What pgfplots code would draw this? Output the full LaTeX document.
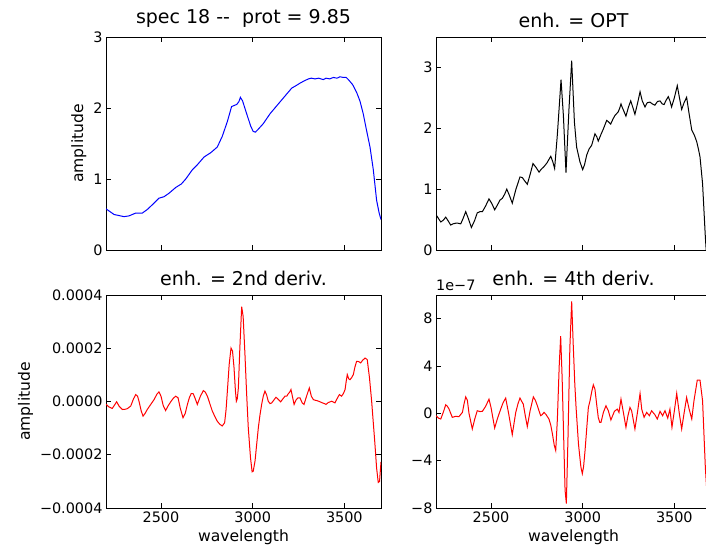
\documentclass[border=0pt]{standalone}
\usepackage{fontspec}
\setmainfont{DejaVu Sans}
\usepackage{pgfplots}
\pgfplotsset{compat=1.18}

\pgfplotsset{spec/.style={
  scale only axis, width=275pt, height=213pt,
  xmin=2200, xmax=3700, xtick={2500,3000,3500},
  tick align=inside, major tick length=5pt,
  clip mode=individual,
  axis line style={line width=0.9pt},
  every tick/.style={black, line width=0.8pt},
  tick label style={font=\fontsize{14.4}{16}\selectfont},
  label style={font=\fontsize{15.6}{18}\selectfont},
  title style={font=\fontsize{19}{22}\selectfont},
  every axis plot/.append style={line width=1pt, mark=none},
}}

\begin{document}
\begin{tikzpicture}

% top left: raw spectrum
\begin{axis}[spec, at={(106pt,302pt)}, anchor=south west,
  ymin=0, ymax=3, ytick={0,1,2,3}, yticklabels={0,1,2,3},
  xticklabels={,,}, ylabel={amplitude},
  title={spec 18 -{}-\ \ prot = 9.85}]
\addplot[blue] table {
2200 0.58
2244 0.50
2298 0.47
2325 0.48
2362 0.52
2398 0.52
2425 0.57
2462 0.66
2489 0.73
2516 0.75
2544 0.80
2580 0.88
2611 0.93
2635 1.00
2671 1.13
2698 1.20
2735 1.31
2771 1.37
2807 1.45
2834 1.60
2862 1.81
2885 2.02
2913 2.05
2925 2.09
2933 2.15
2945 2.10
2967 1.92
2990 1.74
3003 1.67
3015 1.66
3030 1.70
3058 1.78
3095 1.92
3131 2.03
3167 2.14
3213 2.28
3240 2.32
3258 2.35
3280 2.38
3304 2.41
3320 2.42
3340 2.41
3360 2.42
3385 2.40
3400 2.42
3420 2.41
3440 2.43
3460 2.42
3476 2.44
3495 2.43
3510 2.43
3522 2.40
3545 2.33
3567 2.22
3585 2.10
3603 1.92
3620 1.70
3640 1.45
3658 1.13
3676 0.70
3690 0.52
3700 0.43
};
\end{axis}

% top right: OPT enhancement
\begin{axis}[spec, at={(436pt,302pt)}, anchor=south west,
  ymin=0, ymax=3.5, ytick={0,1,2,3}, yticklabels={0,1,2,3},
  xticklabels={,,},
  title={enh. = OPT}]
\addplot[black] table {
2200 0.58
2213 0.52
2226 0.46
2240 0.49
2253 0.54
2266 0.48
2280 0.41
2293 0.43
2307 0.44
2320 0.44
2335 0.43
2348 0.52
2362 0.63
2376 0.52
2393 0.37
2410 0.48
2425 0.61
2440 0.63
2453 0.63
2470 0.72
2489 0.84
2505 0.76
2520 0.66
2535 0.74
2549 0.82
2562 0.85
2575 0.92
2586 1.00
2600 0.90
2616 0.77
2636 1.00
2658 1.20
2671 1.19
2685 1.13
2698 1.08
2715 1.26
2729 1.42
2745 1.36
2762 1.28
2775 1.33
2789 1.37
2805 1.43
2826 1.54
2837 1.45
2847 1.34
2862 1.90
2882 2.80
2895 2.20
2909 1.27
2925 2.30
2940 3.11
2955 2.10
2967 1.69
2985 1.45
3000 1.32
3010 1.40
3022 1.56
3035 1.66
3049 1.72
3067 1.91
3077 1.86
3085 1.79
3100 1.90
3113 1.99
3131 2.13
3143 2.10
3153 2.07
3165 2.15
3176 2.21
3194 2.27
3202 2.33
3209 2.40
3215 2.35
3222 2.30
3236 2.20
3250 2.35
3262 2.45
3275 2.33
3285 2.23
3300 2.42
3313 2.60
3325 2.45
3340 2.35
3352 2.42
3367 2.43
3380 2.40
3394 2.38
3408 2.44
3422 2.45
3434 2.40
3444 2.39
3455 2.46
3467 2.52
3476 2.45
3485 2.35
3500 2.50
3516 2.70
3528 2.50
3540 2.31
3553 2.42
3567 2.51
3580 2.25
3595 1.97
3610 1.88
3622 1.78
3632 1.65
3640 1.53
3654 1.09
3669 0.22
3680 -0.30
};
\end{axis}

% bottom left: 2nd derivative (values in units of 1e-4)
\begin{axis}[spec, at={(106pt,44pt)}, anchor=south west,
  ymin=-4, ymax=4, ytick={-4,-2,0,2,4},
  yticklabels={−0.0004,−0.0002,0.0000,0.0002,0.0004},
  xticklabels={2500,3000,3500},
  xlabel={wavelength}, ylabel={amplitude},
  title={enh. = 2nd deriv.}]
\addplot[red] table {
2200 -0.10
2215 -0.20
2234 -0.26
2245 -0.15
2258 -0.01
2272 -0.18
2289 -0.30
2305 -0.29
2316 -0.27
2335 -0.17
2350 0.10
2362 0.26
2372 0.20
2380 0.01
2392 -0.35
2402 -0.55
2413 -0.45
2425 -0.30
2445 -0.10
2462 0.07
2478 0.28
2489 0.36
2500 0.20
2512 -0.15
2525 -0.34
2540 -0.15
2553 -0.01
2567 0.12
2580 0.20
2593 0.14
2605 -0.25
2620 -0.61
2632 -0.45
2644 -0.11
2655 0.15
2665 0.30
2676 0.29
2686 0.12
2698 -0.11
2715 0.20
2731 0.41
2742 0.35
2753 0.20
2765 -0.05
2780 -0.36
2795 -0.58
2807 -0.74
2820 -0.85
2834 -0.92
2847 -0.80
2855 -0.30
2862 0.39
2872 1.40
2882 2.01
2890 1.90
2898 1.30
2906 0.40
2911 0.01
2916 0.10
2922 0.51
2930 2.00
2940 3.56
2948 3.20
2958 1.76
2967 0.30
2976 -0.98
2988 -2.10
2997 -2.64
3003 -2.62
3013 -2.23
3022 -1.60
3031 -0.98
3040 -0.50
3049 -0.11
3058 0.20
3067 0.39
3076 0.25
3085 0.01
3095 -0.08
3104 -0.05
3115 0.05
3127 0.16
3140 0.08
3153 -0.01
3165 0.10
3176 0.20
3186 0.20
3194 0.29
3202 0.35
3209 0.45
3218 0.15
3226 -0.11
3236 0.05
3247 0.14
3258 0.14
3270 -0.05
3280 -0.11
3294 0.20
3309 0.51
3320 0.20
3331 0.07
3340 0.05
3352 0.03
3367 -0.01
3380 -0.05
3392 -0.08
3400 -0.11
3412 -0.04
3431 0.01
3440 -0.02
3449 -0.05
3460 0.10
3473 0.26
3485 0.20
3495 0.30
3504 0.45
3510 0.75
3516 1.01
3524 0.85
3531 0.82
3540 0.90
3549 1.01
3558 1.30
3567 1.51
3578 1.50
3589 1.45
3600 1.55
3613 1.63
3620 1.60
3625 1.57
3637 0.90
3649 0.01
3658 -0.80
3667 -1.61
3676 -2.50
3685 -3.04
3692 -3.00
3700 -2.27
};
\end{axis}

% bottom right: 4th derivative (values in units of 1e-7)
\begin{axis}[spec, at={(436pt,44pt)}, anchor=south west,
  ymin=-8, ymax=10, ytick={-8,-4,0,4,8},
  yticklabels={−8,−4,0,4,8},
  xticklabels={2500,3000,3500},
  xlabel={wavelength},
  title={enh. = 4th deriv.}]
\addplot[red] table {
2200 -0.20
2213 -0.40
2226 -0.48
2240 0.10
2253 0.72
2262 0.60
2271 0.36
2289 -0.34
2307 -0.25
2325 -0.28
2344 0.08
2353 0.80
2362 1.39
2371 1.10
2380 0.00
2398 -1.32
2411 -0.50
2425 0.22
2440 0.15
2453 0.17
2471 0.60
2489 1.20
2500 0.50
2520 -1.24
2536 -0.40
2553 0.36
2566 0.90
2580 1.29
2596 0.00
2616 -1.80
2625 -0.90
2635 0.08
2647 0.80
2658 1.29
2668 1.00
2676 0.78
2687 -0.20
2698 -1.12
2713 0.20
2731 1.39
2742 1.10
2753 0.64
2762 0.20
2771 -0.20
2780 -0.10
2789 0.08
2800 -0.10
2816 -0.48
2826 -1.00
2835 -1.74
2845 -2.70
2853 -3.14
2862 -0.50
2872 4.00
2880 6.52
2888 3.00
2898 -3.00
2904 -6.50
2911 -7.62
2920 -2.00
2930 5.50
2940 9.46
2948 6.00
2957 2.50
2964 0.50
2977 -2.58
2990 -4.50
2998 -5.10
3005 -4.50
3013 -3.14
3022 -1.30
3031 0.50
3040 1.06
3049 1.80
3058 2.41
3067 2.04
3076 0.80
3085 -0.34
3093 -0.76
3100 -0.76
3113 0.08
3127 0.64
3140 0.22
3154 -0.56
3173 0.17
3189 0.36
3198 0.08
3209 1.20
3222 0.08
3236 -1.18
3247 -0.20
3258 0.50
3267 0.22
3285 -1.32
3300 0.20
3313 1.68
3322 0.36
3335 -0.34
3349 0.08
3364 -0.20
3376 0.22
3394 -0.12
3407 -0.48
3422 0.17
3436 -0.20
3449 0.22
3464 -0.40
3476 0.36
3487 -1.18
3500 0.20
3513 1.68
3527 0.00
3540 -1.32
3553 0.00
3567 1.34
3580 0.40
3595 -0.48
3607 1.06
3625 2.80
3640 2.80
3654 1.06
3669 -4.54
3685 -8.50
};
\node[anchor=south west, inner sep=0pt, yshift=4pt,
  font=\fontsize{14.4}{16}\selectfont] at (rel axis cs:0,1) {1e−7};
\end{axis}

\pgfresetboundingbox
\path[use as bounding box] (0,0) rectangle (706pt,552pt);
\end{tikzpicture}
\end{document}
